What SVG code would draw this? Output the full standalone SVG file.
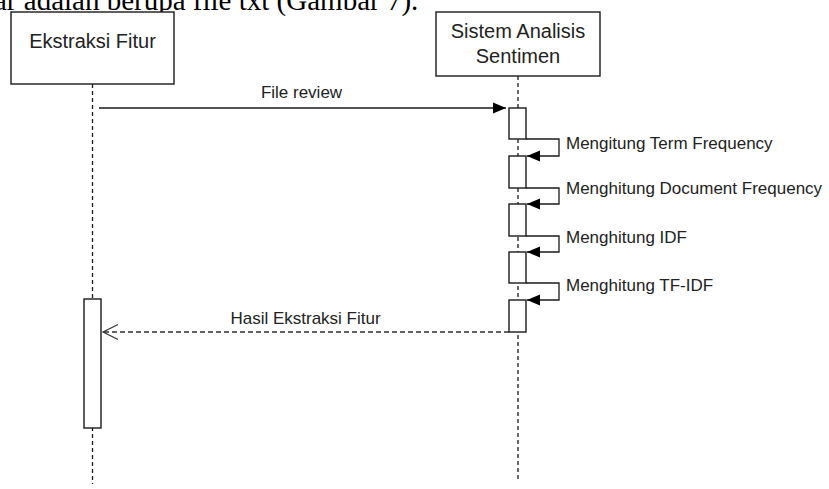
<svg xmlns="http://www.w3.org/2000/svg" width="829" height="489" viewBox="0 0 829 489">
  <style>
    .box { fill: #ffffff; stroke: #1a1a1a; stroke-width: 1.4; }
    .life { stroke: #1a1a1a; stroke-width: 1.3; stroke-dasharray: 4 3; fill: none; }
    .msg { stroke: #1a1a1a; stroke-width: 1.3; fill: none; }
    .ret { stroke: #333333; stroke-width: 1.3; fill: none; stroke-dasharray: 5 3; }
    .hdr { font-family: "Liberation Sans", Arial, sans-serif; font-size: 20px; fill: #222222; text-anchor: middle; }
    .lbl { font-family: "Liberation Sans", Arial, sans-serif; font-size: 17px; fill: #222222; }
    .ctr { text-anchor: middle; }
    .body { font-family: "Liberation Serif", "Times New Roman", serif; font-size: 29px; fill: #000000; }
  </style>
  <defs>
    <marker id="filled" markerUnits="userSpaceOnUse" markerWidth="14" markerHeight="12" refX="13" refY="6" orient="auto">
      <path d="M0,0.5 L13,6 L0,11.5 Z" fill="#000000"/>
    </marker>
    <marker id="open" markerUnits="userSpaceOnUse" markerWidth="18" markerHeight="18" refX="16" refY="9" orient="auto">
      <path d="M1,1.5 L16,9 L1,16.5" fill="none" stroke="#333333" stroke-width="1.2"/>
    </marker>
  </defs>
  <rect width="829" height="489" fill="#ffffff"/>
  <text class="body" x="-6" y="10">ar adalah berupa file txt (Gambar 7).</text>

  <g id="ekstraksi-fitur">
    <line class="life" x1="92.5" y1="84" x2="92.5" y2="484"/>
    <rect class="box" x="11" y="12" width="163" height="72"/>
    <text class="hdr" x="92.5" y="48">Ekstraksi Fitur</text>
    <rect class="box" x="84" y="299" width="17" height="129"/>
  </g>

  <g id="sistem-analisis-sentimen">
    <line class="life" x1="518" y1="76" x2="518" y2="481"/>
    <rect class="box" x="436" y="12" width="164" height="64"/>
    <text class="hdr" x="518" y="38">Sistem Analisis</text>
    <text class="hdr" x="518" y="63">Sentimen</text>
    <rect class="box" x="509" y="108" width="17" height="31"/>
    <rect class="box" x="509" y="156" width="17" height="32"/>
    <rect class="box" x="509" y="204" width="17" height="32"/>
    <rect class="box" x="509" y="252" width="17" height="31"/>
    <rect class="box" x="509" y="300" width="17" height="32"/>
  </g>

  <g id="connectors">
    <line class="msg" x1="99" y1="108" x2="506" y2="108" marker-end="url(#filled)"/>
    <text class="lbl ctr" x="301.5" y="98">File review</text>

    <path class="msg" d="M526,139 H559 V156 H527" marker-end="url(#filled)"/>
    <text class="lbl" x="566" y="149">Mengitung Term Frequency</text>

    <path class="msg" d="M526,188 H559 V204 H527" marker-end="url(#filled)"/>
    <text class="lbl" x="566" y="194">Menghitung Document Frequency</text>

    <path class="msg" d="M526,236 H559 V252 H527" marker-end="url(#filled)"/>
    <text class="lbl" x="566" y="243">Menghitung IDF</text>

    <path class="msg" d="M526,283 H559 V300 H527" marker-end="url(#filled)"/>
    <text class="lbl" x="566" y="291">Menghitung TF-IDF</text>

    <line class="ret" x1="509" y1="332" x2="103" y2="332" marker-end="url(#open)"/>
    <text class="lbl ctr" x="305.5" y="324">Hasil Ekstraksi Fitur</text>
  </g>
</svg>
